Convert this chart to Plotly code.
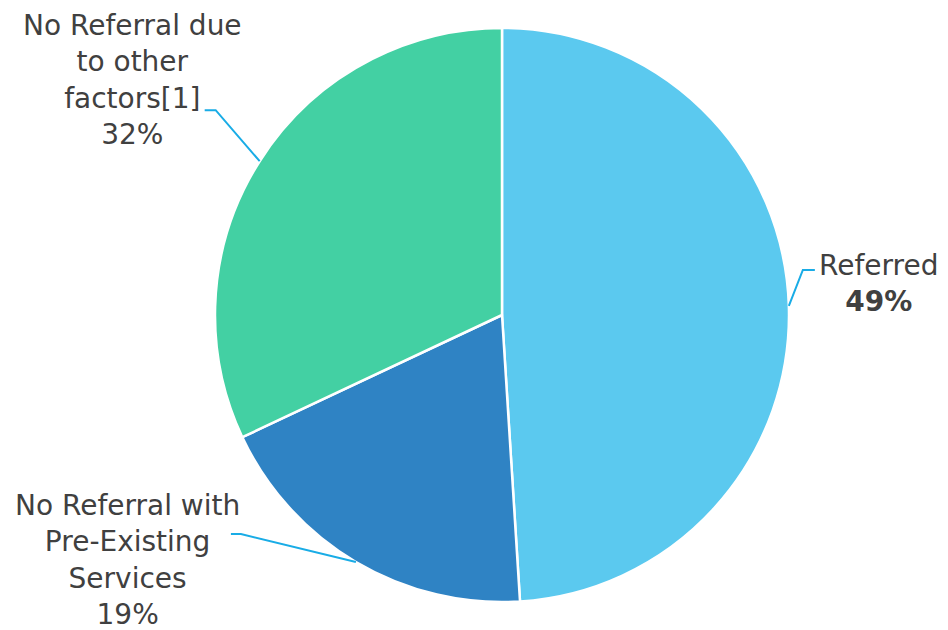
import math
import plotly.graph_objects as go

categories = ["Referred", "No Referral with Pre-Existing Services", "No Referral due to other factors[1]"]
values = [49, 19, 32]
label_texts = ["Referred<br><b>49%</b>",
               "No Referral with<br>Pre-Existing<br>Services<br>19%",
               "No Referral due<br>to other<br>factors[1]<br>32%"]

colors = ["#5BC9EF", "#2F83C4", "#43D0A3"]

W, H = 948, 630
CX, CY, R = 502, 315, 287

def px_x(x):
    return x / W

def px_y(y):
    return 1 - y / H

fig = go.Figure(go.Pie(
    labels=categories, values=values, sort=False, direction="clockwise", rotation=0,
    marker=dict(colors=colors, line=dict(color="white", width=2.5)),
    textinfo="none", hoverinfo="label+percent", showlegend=False,
    domain=dict(x=[px_x(CX - R), px_x(CX + R)], y=[px_y(CY + R), px_y(CY - R)]),
))

# label layout: elbow offset from edge tip (px), horizontal tail length, text block centre (px)
layout_cfg = [
    dict(elbow=(14, -36), tail=12, text=(817, 283), xanchor="left"),
    dict(elbow=(-115, -28), tail=-10, text=(128, 560), xanchor="center"),
    dict(elbow=(-44, -51), tail=-11, text=(132, 80), xanchor="center"),
]

total = sum(values)
cum = 0
shapes = []
annotations = []
for v, txt, cfg in zip(values, label_texts, layout_cfg):
    mid = (cum + v / 2) / total * 2 * math.pi
    cum += v
    tx = CX + R * math.sin(mid)
    ty = CY - R * math.cos(mid)
    ex, ey = tx + cfg["elbow"][0], ty + cfg["elbow"][1]
    fx = ex + cfg["tail"]
    path = f"M {px_x(tx)},{px_y(ty)} L {px_x(ex)},{px_y(ey)} L {px_x(fx)},{px_y(ey)}"
    shapes.append(dict(type="path", xref="paper", yref="paper", path=path,
                       line=dict(color="#19ACE6", width=2)))
    annotations.append(dict(x=px_x(cfg["text"][0]), y=px_y(cfg["text"][1]), xref="paper", yref="paper",
                            text=txt, showarrow=False, xanchor=cfg["xanchor"], yanchor="middle",
                            align="center", font=dict(size=28, color="#404040", family="DejaVu Sans")))

fig.update_layout(
    width=W, height=H, margin=dict(l=0, r=0, t=0, b=0),
    paper_bgcolor="white", plot_bgcolor="white",
    shapes=shapes, annotations=annotations,
)

fig.write_html("out.html", config={"displayModeBar": False},
               post_script="document.body.style.margin='0';")
